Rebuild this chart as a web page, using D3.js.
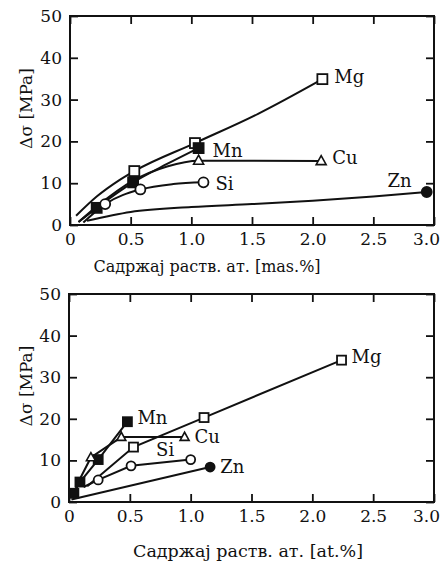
<!DOCTYPE html>
<html>
<head>
<meta charset="utf-8">
<script src="https://cdn.jsdelivr.net/npm/d3@7"></script>
<style>
  body { margin: 0; background: #fff; }
  svg { display: block; }
</style>
</head>
<body>
<svg width="446" height="565"></svg>
<script>
// axis ticks
const xTicks = [0, 0.5, 1, 1.5, 2, 2.5, 3];
const yTicks = [0, 10, 20, 30, 40, 50];
const elements = ["Mg", "Mn", "Cu", "Si", "Zn"];

// [content, Δσ, marker?]  marker 0 = point on the fitted curve only
// top panel, mas.%
const massMg = [[0.05, 2.2, 0], [0.22, 6.8, 0], [0.41, 10.8, 0], [0.53, 12.9, 1], [1.03, 19.6, 1], [1.55, 26.6, 0], [2.08, 34.9, 1]];
const massMn = [[0.07, 0.7, 0], [0.22, 4.1, 1], [0.52, 10.2, 1], [0.8, 14.6, 0], [1.06, 18.4, 1]];
const massCu = [[0.07, 0.7, 0], [0.22, 4.4, 0], [0.52, 10.6, 0], [0.8, 14.0, 0], [1.06, 15.4, 1], [2.07, 15.3, 1]];
const massSi = [[0.11, 0.6, 0], [0.29, 5.0, 1], [0.58, 8.5, 1], [0.85, 9.8, 0], [1.1, 10.2, 1]];
const massZn = [[0.14, 1.0, 0], [0.5, 3.1, 0], [1.0, 4.3, 0], [1.5, 5.0, 0], [2.0, 5.8, 0], [2.5, 6.8, 0], [2.94, 7.9, 1]];

// bottom panel, at.%
const atMg = [[0.15, 3.8, 0], [0.53, 13.2, 1], [1.11, 20.3, 1], [2.24, 34.1, 1]];
const atMn = [[0.04, 2.1, 1], [0.09, 4.8, 1], [0.24, 10.2, 1], [0.48, 19.3, 1]];
const atCu = [[0.04, 2.1, 0], [0.08, 5.0, 0], [0.18, 10.7, 1], [0.43, 15.6, 1], [0.95, 15.6, 1]];
const atSi = [[0.12, 3.6, 0], [0.24, 5.3, 1], [0.51, 8.7, 1], [1.0, 10.2, 1]];
const atZn = [[0.02, 0.6, 0], [1.16, 8.4, 1]];

const FONT = '"DejaVu Serif", "Liberation Serif", serif';
const svg = d3.select("svg").attr("font-family", FONT);

const markerType = {Mg: "openSquare", Mn: "fillSquare", Cu: "openTri", Si: "openCircle", Zn: "fillCircle"};
const fmtX = d => d === 0 ? "0" : d3.format(".1f")(d);

function drawMarker(g, type, px, py, s) {
  if (type === "openSquare" || type === "fillSquare") {
    g.append("rect").attr("x", px - s / 2).attr("y", py - s / 2).attr("width", s).attr("height", s)
      .attr("fill", type === "fillSquare" ? "#111" : "#fff").attr("stroke", "#111").attr("stroke-width", 1.8);
  } else if (type === "openTri") {
    const h = s * 0.9;
    g.append("path").attr("d", `M${px},${py - h * 0.6}L${px + s / 2},${py + h * 0.4}L${px - s / 2},${py + h * 0.4}Z`)
      .attr("fill", "#fff").attr("stroke", "#111").attr("stroke-width", 1.6);
  } else {
    g.append("circle").attr("cx", px).attr("cy", py).attr("r", s / 2)
      .attr("fill", type === "fillCircle" ? "#111" : "#fff").attr("stroke", "#111").attr("stroke-width", 1.8);
  }
}

function panel(opt) {
  const x = d3.scaleLinear().domain([0, 3]).range([opt.left, opt.right]);
  const y = d3.scaleLinear().domain([0, 50]).range([opt.bottom, opt.top]);
  const g = svg.append("g");

  const ax = (axis, tr) => {
    const a = g.append("g").attr("transform", tr).call(axis);
    a.select(".domain").remove();
    a.selectAll(".tick line").attr("stroke", "#111").attr("stroke-width", 1.8);
    a.attr("font-family", FONT).attr("font-size", 17);
    a.selectAll("text").attr("fill", "#111");
    return a;
  };
  const bx = ax(d3.axisBottom(x).tickValues(xTicks).tickSize(-8).tickPadding(8).tickFormat(fmtX), `translate(0,${opt.bottom})`);
  // last label sits a little left of its tick, as in the print
  bx.selectAll(".tick text").filter(d => d === 3).attr("dx", -8);
  ax(d3.axisTop(x).tickValues(xTicks).tickSize(-8).tickFormat(""), `translate(0,${opt.top})`);
  ax(d3.axisLeft(y).tickValues(yTicks).tickSize(-8).tickPadding(8), `translate(${opt.left},0)`);
  ax(d3.axisRight(y).tickValues(yTicks).tickSize(-8).tickFormat(""), `translate(${opt.right},0)`);

  g.append("rect").attr("x", opt.left).attr("y", opt.top)
    .attr("width", opt.right - opt.left).attr("height", opt.bottom - opt.top)
    .attr("fill", "none").attr("stroke", "#111").attr("stroke-width", 2);

  const line = d3.line().x(d => x(d[0])).y(d => y(d[1])).curve(opt.curve);

  opt.series.forEach(pts => {
    g.append("path").attr("d", line(pts)).attr("fill", "none")
      .attr("stroke", "#111").attr("stroke-width", 2);
  });
  opt.series.forEach((pts, i) => {
    const name = elements[i];
    pts.filter(p => p[2]).forEach(p => drawMarker(g, markerType[name], x(p[0]), y(p[1]), opt.msize));
    const lab = opt.labels[name];
    const ref = pts.filter(p => p[2])[lab.idx];
    g.append("text").attr("x", x(ref[0]) + lab.dx).attr("y", y(ref[1]) + lab.dy)
      .attr("font-size", 18).attr("fill", "#111").attr("text-anchor", lab.anchor || "start").text(name);
  });

  g.append("text").attr("transform", `translate(${opt.ytx},${(opt.top + opt.bottom) / 2 - 12}) rotate(-90)`)
    .attr("text-anchor", "middle").attr("font-size", 17).attr("fill", "#111").text("Δσ [MPa]");
  g.append("text").attr("x", opt.xtx).attr("y", opt.bottom + opt.xty)
    .attr("text-anchor", "middle").attr("font-size", opt.xfs).attr("fill", "#111").text(opt.xTitle);
}

panel({
  left: 70, right: 434, top: 16, bottom: 225,
  curve: d3.curveMonotoneX, msize: 10,
  series: [massMg, massMn, massCu, massSi, massZn],
  labels: {
    Mg: {idx: 2, dx: 12, dy: 4},
    Mn: {idx: 2, dx: 14, dy: 9},
    Cu: {idx: 1, dx: 11, dy: 3},
    Si: {idx: 2, dx: 12, dy: 8},
    Zn: {idx: 0, dx: -15, dy: -5, anchor: "end"}
  },
  ytx: 32, xtx: 207, xty: 47, xfs: 16,
  xTitle: "Садржај раств. ат. [mas.%]"
});

panel({
  left: 69, right: 434, top: 294, bottom: 502,
  curve: d3.curveLinear, msize: 9,
  series: [atMg, atMn, atCu, atSi, atZn],
  labels: {
    Mg: {idx: 2, dx: 10, dy: 3},
    Mn: {idx: 3, dx: 10, dy: 2},
    Cu: {idx: 2, dx: 10, dy: 6},
    Si: {idx: 1, dx: 25, dy: -10},
    Zn: {idx: 0, dx: 10, dy: 6}
  },
  ytx: 32, xtx: 248, xty: 55, xfs: 17.5,
  xTitle: "Садржај раств. ат. [at.%]"
});
</script>
</body>
</html>
